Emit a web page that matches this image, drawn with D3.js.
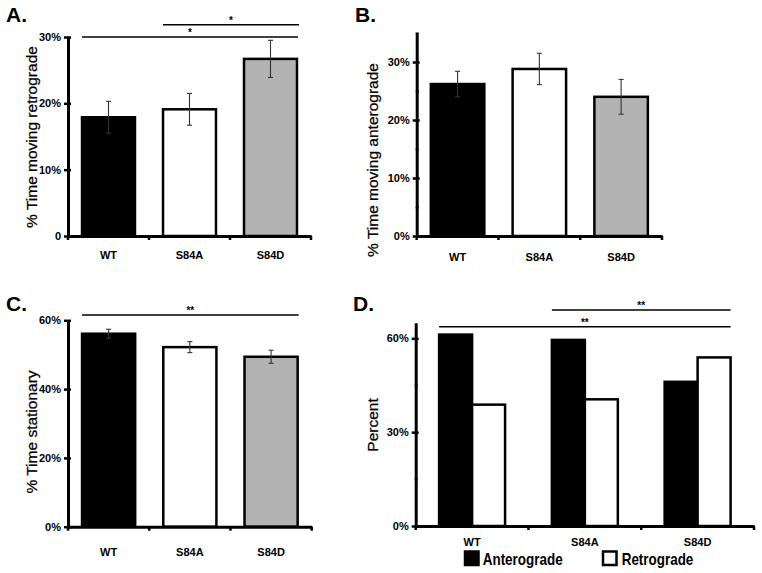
<!DOCTYPE html>
<html><head><meta charset="utf-8">
<script src="https://cdn.jsdelivr.net/npm/d3@7/dist/d3.min.js"></script>
<style>
body{margin:0;background:#fff;}
svg{display:block;font-family:"Liberation Sans",Arial,Helvetica,sans-serif;}
</style></head>
<body>
<svg id="chart" width="762" height="573"></svg>
<script>
// ---------- data ----------
const categories = ["WT", "S84A", "S84D"];
const barFills = ["#000000", "#ffffff", "#b3b3b3"];

const retroValues = [17.9, 19.1, 26.7];
const retroErrors = [2.4, 2.4, 2.8];
const retroTicks = [0, 10, 20, 30];
const retroTickLabels = ["0", "10%", "20%", "30%"];

const anteroValues = [26.2, 28.8, 24.0];
const anteroErrors = [2.2, 2.7, 3.0];
const anteroTicks = [0, 10, 20, 30];
const anteroTickLabels = ["0%", "10%", "20%", "30%"];

const stationaryValues = [56.1, 52.2, 49.4];
const stationaryErrors = [1.3, 1.6, 1.9];
const stationaryTicks = [0, 20, 40, 60];
const stationaryTickLabels = ["0%", "20%", "40%", "60%"];

const seriesNames = ["Anterograde", "Retrograde"];
const directionAntero = [61.2, 59.5, 46.1];
const directionRetro = [38.8, 40.5, 53.9];
const directionTicks = [0, 30, 60];
const directionTickLabels = ["0%", "30%", "60%"];

const svg = d3.select("#chart");

function yAxis(g, y, ticks, labels, minor, x0) {
  const ax = g.append("g").attr("transform", `translate(${x0},0)`);
  ax.call(d3.axisLeft(y).tickValues(minor).tickSize(3).tickSizeOuter(0).tickFormat(""));
  ax.selectAll(".tick line").attr("stroke-width", 2).attr("x2", -1).attr("x1", 2);
  ax.select(".domain").remove();
  const ay = g.append("g").attr("transform", `translate(${x0},0)`);
  ay.call(d3.axisLeft(y).tickValues(ticks).tickSize(4).tickPadding(3).tickSizeOuter(0)
      .tickFormat((d, i) => labels[i]));
  ay.select(".domain").attr("stroke-width", 3).attr("stroke", "#000");
  ay.selectAll(".tick line").attr("stroke-width", 2.5).attr("x1", 3);
  ay.selectAll(".tick text").attr("font-size", 11).attr("font-weight", "bold")
    .attr("fill", "#000").attr("font-family", "'Liberation Sans',Arial,sans-serif");
}

function xAxis(g, x, y0, pad) {
  const ax = g.append("g").attr("transform", `translate(0,${y0})`);
  ax.call(d3.axisBottom(x).tickSize(0).tickPadding(pad).tickSizeOuter(0));
  ax.select(".domain").attr("stroke-width", 3).attr("stroke", "#000");
  ax.selectAll(".tick text").attr("font-size", 11).attr("font-weight", "bold")
    .attr("fill", "#000").attr("font-family", "'Liberation Sans',Arial,sans-serif");
  const r = x.range();
  const bounds = d3.range(categories.length + 1).map(i => r[0] + i * x.step());
  ax.selectAll("line.bt").data(bounds).join("line").attr("class", "bt")
    .attr("x1", d => d).attr("x2", d => d).attr("y1", 0).attr("y2", 4)
    .attr("stroke", "#000").attr("stroke-width", 2.5);
}

function yTitle(g, text, cx, cy) {
  g.append("text").attr("transform", `translate(${cx},${cy}) rotate(-90)`)
    .attr("text-anchor", "middle").attr("dominant-baseline", "central")
    .attr("font-size", 15.5).attr("fill", "#000").attr("stroke", "#000").attr("stroke-width", 0.25)
    .text(text);
}

function panelTitle(g, text, x, y) {
  g.append("text").attr("x", x).attr("y", y).attr("font-size", 21)
    .attr("font-weight", "bold").attr("fill", "#000").text(text);
}

function sigLine(g, x1, x2, yy, label) {
  g.append("line").attr("x1", x1).attr("x2", x2).attr("y1", yy).attr("y2", yy)
    .attr("stroke", "#000").attr("stroke-width", 1.6);
  g.append("text").attr("x", (x1 + x2) / 2).attr("y", yy - 1).attr("text-anchor", "middle")
    .attr("font-size", 10).attr("font-weight", "bold").attr("fill", "#000").text(label);
}

function barPanel(cfg) {
  const g = svg.append("g");
  const x = d3.scaleBand().domain(categories).range([cfg.x0, cfg.x1])
    .paddingInner(0.346).paddingOuter(0.173);
  const y = d3.scaleLinear().domain([0, cfg.ymax]).range([cfg.y0, cfg.ytop]);
  g.selectAll("rect.bar").data(cfg.values).join("rect").attr("class", "bar")
    .attr("x", (d, i) => x(categories[i])).attr("width", x.bandwidth())
    .attr("y", d => y(d)).attr("height", d => y(0) - y(d))
    .attr("fill", (d, i) => barFills[i]).attr("stroke", "#000").attr("stroke-width", 2.5);
  const eb = g.selectAll("g.err").data(cfg.values).join("g").attr("class", "err")
    .attr("transform", (d, i) => `translate(${x(categories[i]) + x.bandwidth() / 2},0)`);
  eb.append("line").attr("x1", 0).attr("x2", 0)
    .attr("y1", (d, i) => y(d + cfg.errors[i])).attr("y2", (d, i) => y(d - cfg.errors[i]))
    .attr("stroke", "#333").attr("stroke-width", 1.1);
  [1, -1].forEach(s => {
    eb.append("line").attr("x1", -2.5).attr("x2", 2.5)
      .attr("y1", (d, i) => y(d + s * cfg.errors[i])).attr("y2", (d, i) => y(d + s * cfg.errors[i]))
      .attr("stroke", "#333").attr("stroke-width", 1.1);
  });
  yAxis(g, y, cfg.ticks, cfg.tickLabels, cfg.minor, cfg.x0);
  xAxis(g, x, cfg.y0, cfg.labelPad);
  yTitle(g, cfg.ytitle, cfg.titleX, cfg.titleY);
  panelTitle(g, cfg.panel, cfg.panelX, cfg.panelY);
  return {g, x, y};
}

// Panel A
const A = barPanel({values: retroValues, errors: retroErrors, ymax: 30, ticks: retroTicks,
  tickLabels: retroTickLabels, minor: [5, 15, 25], x0: 68, x1: 311, y0: 236, ytop: 37,
  labelPad: 15, ytitle: "% Time moving retrograde", titleX: 31, titleY: 137,
  panel: "A.", panelX: 6, panelY: 22});
sigLine(A.g, A.x("S84A"), A.x("S84D") + A.x.bandwidth() + 2, 24.7, "*");
sigLine(A.g, A.x("WT"), A.x("S84D") + A.x.bandwidth() + 1, 37, "*");

// Panel B
const B = barPanel({values: anteroValues, errors: anteroErrors, ymax: 35, ticks: anteroTicks,
  tickLabels: anteroTickLabels, minor: [5, 15, 25, 35], x0: 416.7, x1: 662, y0: 236, ytop: 33,
  labelPad: 17, ytitle: "% Time moving anterograde", titleX: 372, titleY: 160,
  panel: "B.", panelX: 355, panelY: 22});

// Panel C
const C = barPanel({values: stationaryValues, errors: stationaryErrors, ymax: 60, ticks: stationaryTicks,
  tickLabels: stationaryTickLabels, minor: [10, 30, 50], x0: 68, x1: 311.7, y0: 526.7, ytop: 320.3,
  labelPad: 22, ytitle: "% Time stationary", titleX: 31, titleY: 432,
  panel: "C.", panelX: 6, panelY: 311});
sigLine(C.g, C.x("WT"), C.x("S84D") + C.x.bandwidth() + 1, 315, "**");

// Panel D
(function () {
  const g = svg.append("g");
  const x0 = 415.7, x1 = 754, y0 = 526, ytop = 322.7;
  const x = d3.scaleBand().domain(categories).range([x0, x1]).paddingInner(0.415).paddingOuter(0.2075);
  const xs = d3.scaleBand().domain(seriesNames).range([0, x.bandwidth()]);
  const y = d3.scaleLinear().domain([0, 65]).range([y0, ytop]);
  const rows = categories.map((c, i) => ({c, vals: [directionAntero[i], directionRetro[i]]}));
  const grp = g.selectAll("g.grp").data(rows).join("g").attr("class", "grp")
    .attr("transform", d => `translate(${x(d.c)},0)`);
  grp.selectAll("rect").data(d => d.vals.map((v, j) => ({s: seriesNames[j], v})))
    .join("rect").attr("x", d => xs(d.s)).attr("width", xs.bandwidth())
    .attr("y", d => y(d.v)).attr("height", d => y(0) - y(d.v))
    .attr("fill", d => d.s === "Anterograde" ? "#000" : "#fff")
    .attr("stroke", "#000").attr("stroke-width", 2.5);
  yAxis(g, y, directionTicks, directionTickLabels, [15, 45], x0);
  xAxis(g, x, y0, 12);
  yTitle(g, "Percent", 372, 425);
  panelTitle(g, "D.", 353, 311);
  sigLine(g, x("S84A"), x("S84D") + x.bandwidth() + 0, 310, "**");
  sigLine(g, x("WT"), x("S84D") + x.bandwidth() + 0, 326.7, "**");
  // legend
  const lg = g.append("g");
  const items = [{s: seriesNames[0], bx: 465, tx: 482.7, w: 80, fill: "#000"},
                 {s: seriesNames[1], bx: 603, tx: 621.7, w: 71.6, fill: "#fff"}];
  items.forEach(it => {
    lg.append("rect").attr("x", it.bx).attr("y", 551.5).attr("width", 13.5).attr("height", 13.5)
      .attr("fill", it.fill).attr("stroke", "#000").attr("stroke-width", 2.5);
    lg.append("text").attr("x", it.tx).attr("y", 565).attr("font-size", 17)
      .attr("font-weight", "bold").attr("fill", "#000")
      .attr("textLength", it.w).attr("lengthAdjust", "spacingAndGlyphs").text(it.s);
  });
})();
</script>
</body></html>
